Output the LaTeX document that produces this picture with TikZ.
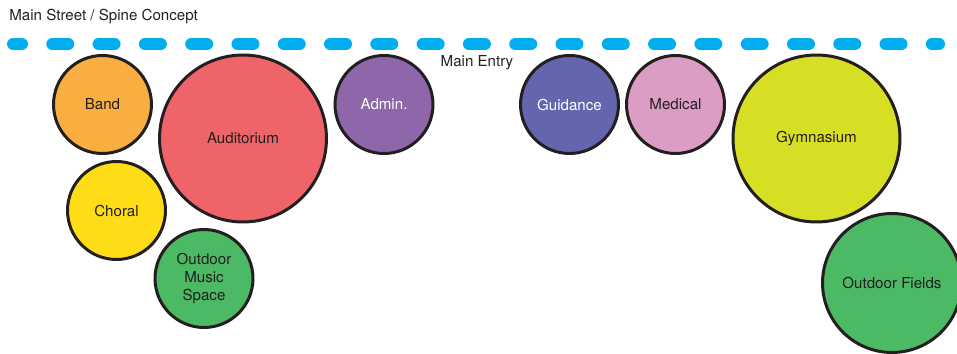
\documentclass[tikz,border=0pt]{standalone}
\usepackage{fontspec}
\setmainfont{TeX Gyre Heros}
\usetikzlibrary{positioning}

\definecolor{ink}{HTML}{231F20}
\definecolor{spineblue}{HTML}{00AEEF}
\definecolor{bandorange}{HTML}{F9AE42}
\definecolor{audred}{HTML}{EF6468}
\definecolor{adminpurple}{HTML}{8E67AB}
\definecolor{guideblue}{HTML}{6366AE}
\definecolor{medpink}{HTML}{DB9DC4}
\definecolor{gymlime}{HTML}{D6DF23}
\definecolor{choralyellow}{HTML}{FEDD17}
\definecolor{outdoorgreen}{HTML}{4CB965}

\begin{document}
\begin{tikzpicture}[x=0.02cm,y=-0.02cm]
    \tikzstyle{room}=[circle,draw=ink,line width=1.7pt,inner sep=0pt,align=center,font=\fontsize{8.6}{10.2}\selectfont]
    \tikzstyle{small room}=[room, minimum size=1.96cm];
    \tikzstyle{large room}=[room, minimum size=3.34cm];
    \tikzstyle{field room}=[room, minimum size=2.78cm];
    \tikzstyle{annot}=[text=ink, inner sep=0pt, font=\fontsize{8.6}{10.2}\selectfont]

    \clip (0,0) rectangle (957,354);

    % Draw the main street spine
    \coordinate (S-start) at (13,44);
    \coordinate (S-end) at (939,44);
    \draw[spineblue, line width=0.24cm, line cap=round,
          dash pattern=on 0.32cm off 0.606cm, dash phase=0.14cm] (S-start) -- (S-end);

    % Draw the small rooms
    \foreach \name/\x/\y/\col/\tc/\txt in {band/102.5/104.5/bandorange/ink/Band,
                                         admin/384/104.5/adminpurple/white/Admin.,
                                         guidance/569.5/104.5/guideblue/white/Guidance,
                                         medical/675.5/104.5/medpink/ink/Medical,
                                         choral/116.5/210.5/choralyellow/ink/Choral,
                                         music/204/278.5/outdoorgreen/ink/{Outdoor\\Music\\Space}}
        \node[small room, fill=\col, text=\tc] (\name) at (\x,\y) {\txt};

    % Draw the large rooms
    \node[large room, fill=audred, text=ink] (auditorium) at (243,138.5) {Auditorium};
    \node[large room, fill=gymlime, text=ink] (gym) at (816.5,138.5) {Gymnasium};
    \node[field room, fill=outdoorgreen, text=ink] (fields) at (892,283) {Outdoor Fields};

    % Annotate the spine
    \node[annot, anchor=west] (title) at (9,17) {Main Street / Spine Concept};
    \node[annot] (entry) at (477,63) {Main Entry};

\end{tikzpicture}
\end{document}
